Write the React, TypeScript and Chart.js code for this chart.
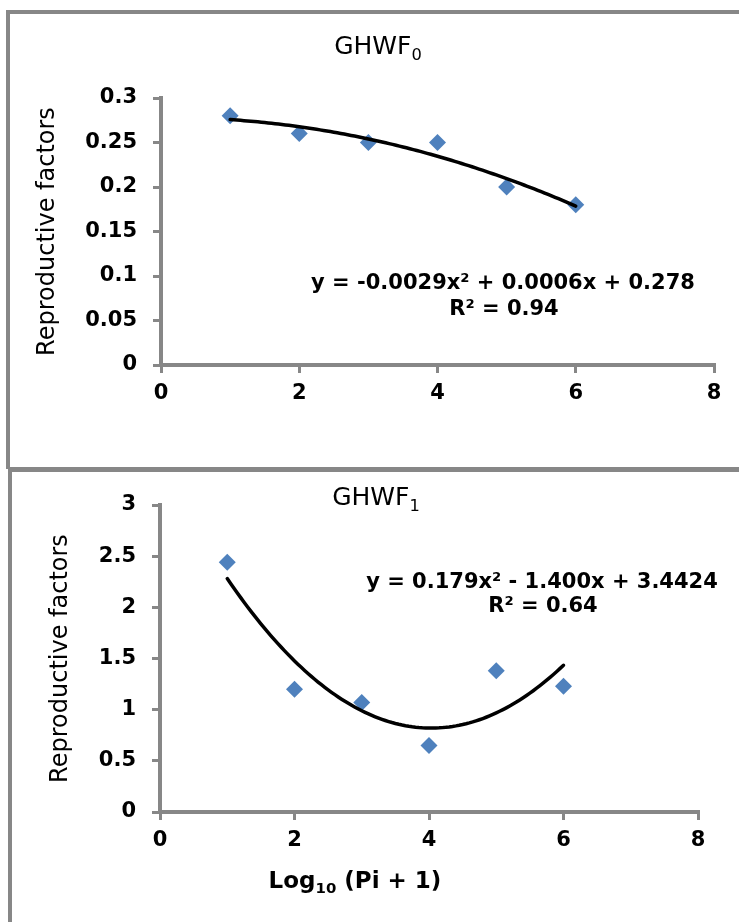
import React, { useEffect, useRef } from "react";
import { Chart, registerables } from "chart.js";

Chart.register(...registerables);

// ---------- data ----------
const xValues = [1, 2, 3, 4, 5, 6];
const topValues = [0.28, 0.26, 0.25, 0.25, 0.2, 0.18];
const bottomValues = [2.44, 1.2, 1.07, 0.65, 1.38, 1.23];
const xTicks = [0, 2, 4, 6, 8];
const topYTicks = [0, 0.05, 0.1, 0.15, 0.2, 0.25, 0.3];
const bottomYTicks = [0, 0.5, 1, 1.5, 2, 2.5, 3];
const topTitle = ["GHWF", "0"];
const bottomTitle = ["GHWF", "1"];
const topEquation = "y = -0.0029x² + 0.0006x + 0.278";
const topR2 = "R² = 0.94";
const bottomEquation = "y = 0.179x² - 1.400x + 3.4424";
const bottomR2 = "R² = 0.64";
const yTitle = "Reproductive factors";
const xTitle = ["Log", "10", " (Pi + 1)"];

// ---------- styles ----------
const GRAY = "#878787";
const BLUE = "#4F81BD";
const FAMILY = "'DejaVu Sans', sans-serif";

// least-squares quadratic fit (what the spreadsheet trendline does)
function fitQuadratic(xs: number[], ys: number[]) {
  let s0 = xs.length, s1 = 0, s2 = 0, s3 = 0, s4 = 0, t0 = 0, t1 = 0, t2 = 0;
  for (let i = 0; i < xs.length; i++) {
    const x = xs[i], y = ys[i];
    s1 += x; s2 += x * x; s3 += x * x * x; s4 += x * x * x * x;
    t0 += y; t1 += x * y; t2 += x * x * y;
  }
  const det3 = (m: number[][]) =>
    m[0][0] * (m[1][1] * m[2][2] - m[1][2] * m[2][1]) -
    m[0][1] * (m[1][0] * m[2][2] - m[1][2] * m[2][0]) +
    m[0][2] * (m[1][0] * m[2][1] - m[1][1] * m[2][0]);
  const M = [[s4, s3, s2], [s3, s2, s1], [s2, s1, s0]];
  const R = [t2, t1, t0];
  const D = det3(M);
  const coef = [0, 1, 2].map((c) => {
    const m = M.map((row, r) => row.map((v, k) => (k === c ? R[r] : v)));
    return det3(m) / D;
  });
  return coef; // a, b, c
}

function trendPoints(xs: number[], ys: number[]) {
  const [a, b, c] = fitQuadratic(xs, ys);
  const x0 = Math.min(...xs), x1 = Math.max(...xs);
  const pts: { x: number; y: number }[] = [];
  const n = 100;
  for (let k = 0; k <= n; k++) {
    const x = x0 + ((x1 - x0) * k) / n;
    pts.push({ x, y: a * x * x + b * x + c });
  }
  return pts;
}

type Seg = { t: string; sub?: boolean };
type TextItem = { segs: Seg[]; cx: number; baseline: number; size: number; weight: string };

function drawRich(ctx: CanvasRenderingContext2D, it: TextItem) {
  const fontFor = (s: number) => `${it.weight} ${s}px ${FAMILY}`;
  const subSize = it.size * 0.65;
  let w = 0;
  it.segs.forEach((s) => {
    ctx.font = fontFor(s.sub ? subSize : it.size);
    w += ctx.measureText(s.t).width;
  });
  let x = it.cx - w / 2;
  ctx.save();
  ctx.textAlign = "left";
  ctx.textBaseline = "alphabetic";
  ctx.fillStyle = "#000";
  it.segs.forEach((s) => {
    ctx.font = fontFor(s.sub ? subSize : it.size);
    ctx.fillText(s.t, x, it.baseline + (s.sub ? it.size * 0.22 : 0));
    x += ctx.measureText(s.t).width;
  });
  ctx.restore();
}

type ChartSpec = {
  values: number[];
  yTicks: number[];
  yMax: number;
  padTop: number;
  padRight: number;
  yWidth: number;
  xHeight: number;
  yTitlePad: number;
  texts: TextItem[];
};

function makeConfig(spec: ChartSpec): any {
  const tickFont = { family: FAMILY, size: 21, weight: "bold" as const };
  const grid = {
    drawOnChartArea: false,
    drawTicks: true,
    tickLength: 8,
    color: GRAY,
    lineWidth: 3,
  };
  const border = { display: true, color: GRAY, width: 4 };
  return {
    type: "scatter",
    data: {
      datasets: [
        {
          type: "line",
          data: trendPoints(xValues, spec.values),
          borderColor: "#000",
          borderWidth: 3.5,
          borderCapStyle: "round",
          pointRadius: 0,
          showLine: true,
          fill: false,
          tension: 0,
          order: 0,
        },
        {
          type: "scatter",
          data: xValues.map((x, i) => ({ x, y: spec.values[i] })),
          pointStyle: "rectRot",
          pointRadius: 8.5,
          pointBackgroundColor: BLUE,
          pointBorderColor: BLUE,
          pointBorderWidth: 0,
          order: 1,
        },
      ],
    },
    options: {
      responsive: false,
      animation: false,
      devicePixelRatio: 1,
      layout: { padding: { top: spec.padTop, right: spec.padRight, left: 0, bottom: 0 } },
      plugins: { legend: { display: false }, tooltip: { enabled: false }, title: { display: false } },
      scales: {
        x: {
          type: "linear",
          position: "bottom",
          min: 0,
          max: 8,
          afterBuildTicks: (s: any) => {
            s.ticks = xTicks.map((v) => ({ value: v }));
          },
          afterFit: (s: any) => {
            s.height = spec.xHeight;
          },
          ticks: { font: tickFont, color: "#000", padding: 8, maxRotation: 0, autoSkip: false, callback: (v: any) => String(v) },
          grid,
          border,
        },
        y: {
          type: "linear",
          position: "left",
          min: 0,
          max: spec.yMax,
          afterBuildTicks: (s: any) => {
            s.ticks = spec.yTicks.map((v) => ({ value: v }));
          },
          afterFit: (s: any) => {
            s.width = spec.yWidth;
          },
          ticks: { font: tickFont, color: "#000", padding: 16, autoSkip: false, callback: (v: any) => String(v) },
          title: {
            display: true,
            text: yTitle,
            color: "#000",
            font: { family: FAMILY, size: 24, weight: "normal" },
            padding: { top: spec.yTitlePad, bottom: 0 },
          },
          grid,
          border,
        },
      },
    },
    plugins: [
      {
        id: "richText",
        afterDraw(chart: any) {
          const ctx = chart.ctx as CanvasRenderingContext2D;
          spec.texts.forEach((t) => drawRich(ctx, t));
        },
      },
    ],
  };
}

const topSpec: ChartSpec = {
  values: topValues,
  yTicks: topYTicks,
  yMax: 0.3,
  padTop: 98,
  padRight: 25,
  yWidth: 161,
  xHeight: 102,
  yTitlePad: 33,
  texts: [
    { segs: [{ t: topTitle[0] }, { t: topTitle[1], sub: true }], cx: 378, baseline: 54, size: 25, weight: "normal" },
    { segs: [{ t: topEquation }], cx: 503, baseline: 289, size: 21, weight: "bold" },
    { segs: [{ t: topR2 }], cx: 504, baseline: 315, size: 21, weight: "bold" },
  ],
};

const bottomSpec: ChartSpec = {
  values: bottomValues,
  yTicks: bottomYTicks,
  yMax: 3,
  padTop: 33,
  padRight: 41,
  yWidth: 160,
  xHeight: 110,
  yTitlePad: 46,
  texts: [
    { segs: [{ t: bottomTitle[0] }, { t: bottomTitle[1], sub: true }], cx: 376, baseline: 33, size: 25, weight: "normal" },
    { segs: [{ t: bottomEquation }], cx: 542, baseline: 116, size: 21, weight: "bold" },
    { segs: [{ t: bottomR2 }], cx: 543, baseline: 140, size: 21, weight: "bold" },
    { segs: [{ t: xTitle[0] }, { t: xTitle[1], sub: true }, { t: xTitle[2] }], cx: 355, baseline: 416, size: 23, weight: "bold" },
  ],
};

function ChartCanvas({ spec, top, height }: { spec: ChartSpec; top: number; height: number }) {
  const ref = useRef<HTMLCanvasElement | null>(null);
  useEffect(() => {
    if (!ref.current) return;
    const chart = new Chart(ref.current, makeConfig(spec));
    return () => chart.destroy();
  }, [spec]);
  return (
    <canvas
      ref={ref}
      width={739}
      height={height}
      style={{ position: "absolute", left: 0, top, width: 739, height }}
    />
  );
}

export default function App() {
  const line = (l: number, t: number, w: number, h: number) => (
    <div style={{ position: "absolute", left: l, top: t, width: w, height: h, background: GRAY, zIndex: 2 }} />
  );
  return (
    <div style={{ position: "absolute", left: 0, top: 0, width: 739, height: 922, overflow: "hidden", background: "#fff" }}>
      <ChartCanvas spec={topSpec} top={0} height={467} />
      <ChartCanvas spec={bottomSpec} top={472} height={450} />
      {line(6, 10, 733, 4)}
      {line(6, 10, 4, 459)}
      {line(8, 467, 731, 5)}
      {line(8, 467, 4, 455)}
    </div>
  );
}
